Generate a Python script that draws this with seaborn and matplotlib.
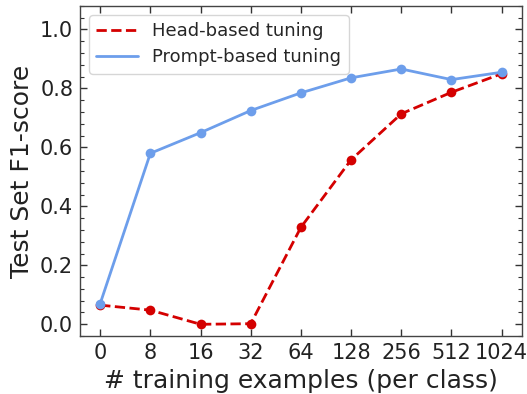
import matplotlib
matplotlib.use("Agg")
import matplotlib.pyplot as plt
from matplotlib.ticker import MultipleLocator
import pandas as pd
import seaborn as sns

shots = ["0", "8", "16", "32", "64", "128", "256", "512", "1024"]
head_f1 = [0.065, 0.048, 0.0, 0.002, 0.329, 0.558, 0.714, 0.787, 0.850]
prompt_f1 = [0.070, 0.580, 0.650, 0.725, 0.785, 0.836, 0.866, 0.830, 0.855]

sns.set_theme(style="ticks")
plt.rcParams["font.family"] = ["DejaVu Sans"]

df = pd.DataFrame({
    "pos": list(range(len(shots))) * 2,
    "f1": head_f1 + prompt_f1,
    "method": ["Head-based tuning"] * len(shots) + ["Prompt-based tuning"] * len(shots),
})

fig, ax = plt.subplots(figsize=(5.27, 3.94), dpi=100)
fig.subplots_adjust(left=0.152, right=0.99, top=0.985, bottom=0.147)

palette = {"Head-based tuning": "#d40000", "Prompt-based tuning": "#6d9eeb"}
styles = {"Head-based tuning": "--", "Prompt-based tuning": "-"}
for name in ["Head-based tuning", "Prompt-based tuning"]:
    sub = df[df["method"] == name]
    sns.lineplot(data=sub, x="pos", y="f1", ax=ax, color=palette[name],
                 linestyle=styles[name], linewidth=2, marker="o",
                 markersize=7, markeredgewidth=0, label=name)

ax.set_xlim(-0.4, 8.4)
ax.set_ylim(-0.04, 1.08)
ax.set_xticks(range(len(shots)))
ax.set_xticklabels(shots)
ax.yaxis.set_major_locator(MultipleLocator(0.2))
ax.yaxis.set_minor_locator(MultipleLocator(0.04))
ax.tick_params(axis="both", which="both", direction="in", top=True, right=True,
               labelsize=15, colors="#333333", labelcolor="#222222")
ax.tick_params(axis="both", which="major", length=5, width=1, pad=5)
ax.tick_params(axis="y", which="minor", length=3, width=0.8)
ax.tick_params(axis="x", which="minor", bottom=False, top=False)
for sp in ax.spines.values():
    sp.set_color("#444444")
    sp.set_linewidth(1)

ax.set_xlabel("# training examples (per class)", fontsize=18, color="#222222", labelpad=4)
ax.set_ylabel("Test Set F1-score", fontsize=18, color="#222222", labelpad=4)

leg = ax.legend(loc="upper left", fontsize=13, frameon=True, handlelength=2.3,
                borderaxespad=0.5, labelspacing=0.45)
for h in leg.get_lines():
    h.set_marker("None")
leg.get_frame().set_edgecolor("#cccccc")

fig.savefig("out.png", dpi=100)
